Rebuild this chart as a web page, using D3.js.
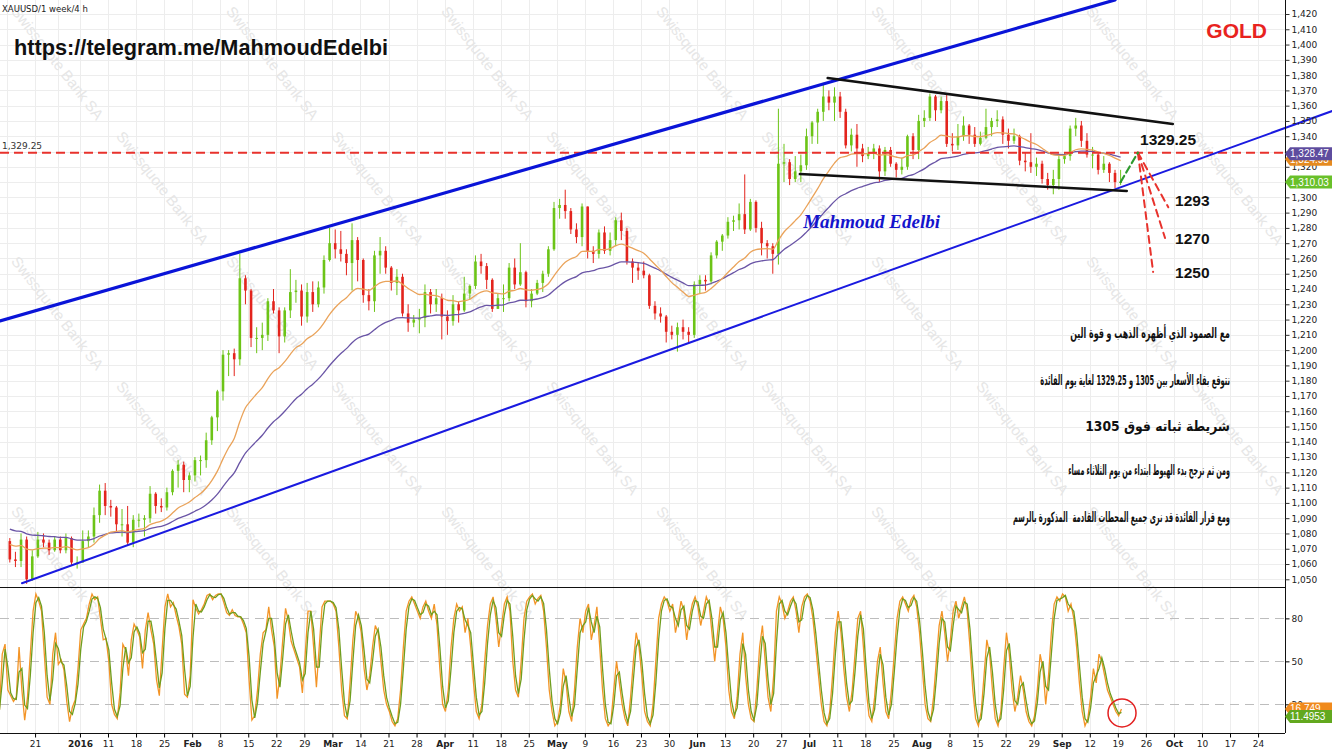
<!DOCTYPE html>
<html><head><meta charset="utf-8">
<script src="https://cdn.jsdelivr.net/npm/d3@7"></script>
<style>html,body{margin:0;padding:0;background:#fff;overflow:hidden}</style>
</head><body>
<svg id="c" width="1332" height="753"></svg>
<script>
// ---------------- DATA ----------------
const startDate = "2015-12-14";            // first daily candle
const holidays = ["2015-12-25", "2016-01-01"];
// daily OHLC (Dec 14 2015 .. Sep 19 2016)
const open = [1075,1063,1062,1076,1050,1065,1076,1074,1069,1076,1069,1077,1061,
1061,1075,1078,1092,1108,1098,1097,1086,1086,1074,1089,1089,1090,1106,1098,1097,1107,1121,1125,1115,
1118,1128,1128,1141,1156,1173,1197,1198,1194,1247,1239,1208,1208,1210,1232,1226,1209,1226,1238,1239,1222,
1238,1230,1241,1259,1270,1266,1263,1257,1272,1259,1236,1232,1262,1265,1254,1244,1248,1224,1218,1220,1221,1238,1230,
1234,1222,1219,1230,1226,1237,1242,1258,1255,1246,1227,1234,1234,1254,1243,1251,1232,1237,1244,1250,1266,
1293,1295,1291,1279,1274,1294,1265,1263,1277,1265,1272,1285,1278,1258,1254,1252,1249,1229,1224,1222,1212,1210,
1215,1212,1210,1243,1246,1245,1262,1271,1275,1284,1285,1289,1279,1297,1280,1270,1268,1263,1322,1323,1312,1317,
1321,1340,1349,1356,1366,1362,1366,1356,1334,1341,1332,1327,1329,1332,1317,1331,1322,1318,1320,1340,1331,
1350,1352,1366,1357,1363,1335,1334,1340,1347,1341,1335,1339,1346,1350,1351,1341,1337,1340,1324,1323,1320,1322,1312,
1308,1312,1325,1327,1345,1347,1337,1328,1328,1318,1322,1316,1310];
const high = [1077,1068,1080,1078,1069,1081,1080,1076,1078,1078,1080,1078,1065,
1082,1082,1097,1112,1113,1102,1098,1096,1098,1092,1093,1092,1111,1107,1103,1110,1122,1128,1127,1120,
1130,1131,1146,1157,1174,1200,1200,1201,1263,1249,1240,1215,1218,1234,1240,1228,1228,1253,1246,1243,1244,
1245,1245,1262,1280,1279,1278,1266,1283,1274,1260,1240,1265,1274,1268,1255,1253,1250,1230,1223,1227,1243,1240,1240,
1237,1226,1236,1232,1248,1243,1262,1263,1257,1247,1237,1243,1257,1260,1270,1252,1240,1246,1252,1268,1297,
1299,1305,1293,1283,1296,1294,1268,1279,1281,1277,1287,1290,1280,1260,1257,1258,1250,1232,1228,1223,1216,1218,
1220,1215,1245,1249,1249,1264,1272,1276,1287,1288,1296,1315,1299,1298,1284,1272,1270,1358,1335,1325,1327,1328,
1345,1350,1358,1375,1370,1372,1369,1358,1345,1348,1335,1333,1335,1334,1333,1333,1323,1326,1341,1342,1354,
1357,1368,1367,1366,1368,1342,1348,1353,1348,1346,1343,1358,1352,1357,1353,1345,1345,1341,1329,1342,1326,1324,1316,
1318,1327,1329,1347,1352,1350,1342,1333,1329,1327,1323,1318,1318];
const low = [1061,1058,1058,1047,1049,1064,1071,1066,1068,1067,1067,1059,1057,
1061,1071,1074,1087,1092,1091,1081,1078,1072,1071,1084,1078,1087,1093,1094,1095,1105,1110,1107,1107,
1114,1118,1123,1138,1147,1167,1183,1183,1190,1230,1202,1198,1200,1206,1224,1198,1205,1221,1231,1216,1218,
1225,1228,1237,1258,1260,1258,1249,1239,1245,1231,1226,1225,1250,1250,1239,1236,1222,1212,1215,1211,1215,1224,1225,
1207,1210,1216,1218,1225,1233,1240,1250,1240,1225,1227,1225,1232,1240,1242,1228,1228,1236,1238,1248,1265,
1286,1286,1276,1270,1268,1260,1257,1260,1263,1262,1268,1272,1256,1244,1246,1247,1227,1220,1218,1205,1207,1199,
1207,1204,1208,1237,1239,1243,1260,1265,1273,1278,1279,1276,1278,1277,1262,1260,1250,1256,1310,1308,1310,1310,
1318,1335,1335,1350,1357,1350,1352,1332,1330,1320,1323,1325,1325,1310,1314,1320,1313,1315,1318,1325,1325,
1346,1350,1350,1355,1333,1330,1331,1337,1335,1333,1334,1338,1340,1346,1335,1332,1335,1321,1317,1316,1314,1309,1305,
1302,1305,1322,1324,1340,1333,1326,1319,1315,1316,1310,1306,1308];
const close = [1063,1062,1076,1050,1065,1076,1074,1069,1076,1069,1077,1061,1061,
1075,1078,1092,1108,1098,1097,1086,1086,1074,1089,1089,1090,1106,1098,1097,1107,1121,1125,1115,1118,
1128,1128,1141,1156,1173,1197,1198,1194,1247,1239,1208,1208,1210,1232,1226,1209,1226,1238,1239,1222,1238,
1230,1241,1259,1270,1266,1263,1257,1272,1259,1236,1232,1262,1265,1254,1244,1248,1224,1218,1220,1221,1238,1230,1234,
1222,1219,1230,1226,1237,1242,1258,1255,1246,1227,1234,1234,1254,1243,1251,1232,1237,1244,1250,1266,1293,
1295,1291,1279,1274,1294,1265,1263,1277,1265,1272,1285,1278,1258,1254,1252,1249,1229,1224,1222,1212,1210,1215,
1212,1210,1243,1246,1245,1262,1271,1275,1284,1285,1289,1279,1297,1280,1270,1268,1263,1322,1323,1312,1317,1321,
1340,1349,1356,1366,1362,1366,1356,1334,1341,1332,1327,1329,1332,1317,1331,1322,1318,1320,1340,1331,1350,
1352,1366,1357,1363,1335,1334,1340,1347,1341,1335,1339,1346,1350,1351,1341,1337,1340,1324,1323,1320,1322,1312,1308,
1312,1325,1327,1345,1347,1337,1328,1328,1318,1322,1316,1310,1310.03];

// exponential moving averages (periods in days) and their values at the left edge
const fastPeriod = 18, fastStart = 1074;
const slowPeriod = 36, slowStart = 1084;

// stochastic %K, half-day samples
const oscStart = "2015-12-10T15:36";
const stochK = [16,55,62,30,26,22,25,60,30,9,
25,55,85,97,92,85,55,25,20,55,
70,48,51,44,22,8,18,23,45,72,
76,80,90,97,93,95,80,65,66,50,
20,13,10,28,62,58,40,65,76,72,
67,45,72,84,72,62,37,26,58,88,
97,88,91,82,74,62,27,25,40,93,
87,83,86,90,96,97,93,96,97,97,
91,84,82,86,82,81,81,76,70,37,
9,12,30,55,70,72,88,72,60,24,
40,65,87,78,64,58,52,46,28,55,
85,85,60,32,60,88,92,92,92,
90,85,60,30,12,10,35,65,85,80,
70,45,30,40,60,75,70,50,30,20,
15,8,5,10,30,60,85,92,95,90,
85,80,88,92,85,80,90,75,45,20,
15,30,60,80,90,85,88,70,80,60,
35,15,10,20,50,75,90,95,80,60,
75,90,95,85,50,30,25,50,80,92,
95,97,90,94,96,85,60,30,15,5,
8,20,45,35,15,8,30,60,80,70,
85,90,65,75,88,60,30,10,5,8,
30,50,35,20,10,5,25,50,70,60,
40,15,8,5,20,50,80,90,95,92,
85,90,70,80,92,85,65,80,90,95,
88,75,85,95,90,70,50,70,88,80,
60,30,15,10,25,55,70,40,20,10,
8,30,60,75,50,25,15,40,85,95,
90,80,85,92,95,85,70,88,95,97,
92,80,60,40,20,8,5,15,40,70,
85,70,45,25,15,30,55,80,85,60,
30,12,8,25,50,60,35,15,10,30,
55,80,92,95,90,85,93,96,88,70,
45,20,10,8,25,50,75,85,70,50,
65,85,92,80,88,95,85,60,30,10,
5,15,40,65,55,30,10,5,15,45,
70,55,30,15,25,40,30,15,8,5,
12,30,55,45,20,40,70,90,95,92,
97,95,85,90,80,60,35,15,5,10,
25,45,35,55,50,40,30,25,20,15,
12,16.7];
const dPeriod = 2;

// axis ticks
const priceTicks = [1050,1060,1070,1080,1090,1100,1110,1120,1130,1140,1150,1160,1170,1180,1190,1200,1210,1220,1230,1240,1250,1260,1270,1280,1290,1300,1310,1320,1330,1340,1350,1360,1370,1380,1390,1400,1410,1420];
const oscTicks = [20, 50, 80];
const tickDates = ["2015-12-21","2016-01-04","2016-01-11","2016-01-18","2016-01-25","2016-02-01","2016-02-08","2016-02-15","2016-02-22","2016-02-29","2016-03-07","2016-03-14","2016-03-21","2016-03-28","2016-04-04","2016-04-11","2016-04-18","2016-04-25","2016-05-02","2016-05-09","2016-05-16","2016-05-23","2016-05-30","2016-06-06","2016-06-13","2016-06-20","2016-06-27","2016-07-04","2016-07-11","2016-07-18","2016-07-25","2016-08-01","2016-08-08","2016-08-15","2016-08-22","2016-08-29","2016-09-05","2016-09-12","2016-09-19","2016-09-26","2016-10-03","2016-10-10","2016-10-17","2016-10-24"];
const tickLabels = ["21","2016","11","18","25","Feb","8","15","22","29","Mar","14","21","28","Apr","11","18","25","May","9","16","23","30","Jun","13","20","27","Jul","11","18","25","Aug","8","15","22","29","Sep","12","19","26","Oct","10","17","24"];

// current value tags
const tagSlowMA = 1328.47, tagFastMA = 1324.93, tagClose = 1310.03;
const tagK = 16.749, tagD = 11.4953;

// drawn annotations (date, price)
const resistanceLevel = 1329.25;
const channelUpper = [["2015-12-10T18:00", 1219.1], ["2016-09-16T12:00", 1429.2]];
const channelLower = [["2015-12-16T16:00", 1047.4], ["2016-11-10T05:00", 1356.5]];
const wedgeUpper = [["2016-07-07T07:00", 1378.1], ["2016-09-30T19:00", 1348.0]];
const wedgeLower = [["2016-06-30T08:00", 1315.3], ["2016-09-20T14:00", 1304.2]];
const forecastUp = [["2016-09-19T12:00", 1310.03], ["2016-09-22T14:00", 1329.25]];
const forecastApex = ["2016-09-22T14:00", 1329.25];
const forecastTargets = [["2016-09-30T00:00", 1293.5], ["2016-09-29T10:00", 1273.4], ["2016-09-27T07:00", 1251.2]];
const levelLabels = [["1329.25","2016-09-22T23:00",1337.5],["1293","2016-10-03T05:00",1297.6],["1270","2016-10-03T05:00",1272.7],["1250","2016-10-03T05:00",1250.5]];
const signature = ["Mahmoud Edelbi", "2016-06-30T22:00", 1284];
const circleMark = ["2016-09-19T18:00", 14];

const arabicLines = [
  "مع الصمود الذي أظهره الذهب و قوة الين",
  "نتوقع بقاء الأسعار بين 1305 و 1329.25 لغاية يوم الفائدة",
  "شريطة ثباته فوق 1305",
  "ومن ثم نرجح بدء الهبوط ابتداء من يوم الثلاثاء مساء",
  "ومع قرار الفائدة قد نرى جميع المحطات القادمة  المذكورة بالرسم"
];

// ---------------- LAYOUT ----------------
const W = 1332, H = 753, PR = 1285;
const mainBottom = 587, oscBottom = 733;
const svg = d3.select('#c');

const fmt = d3.utcFormat('%Y-%m-%d');
const allDays = d3.utcDay.range(new Date(Date.UTC(2015,11,1)), new Date(Date.UTC(2016,11,1)))
  .filter(d => { const w = d.getUTCDay(); return w > 0 && w < 6 && !holidays.includes(fmt(d)); });
const base = allDays.findIndex(d => fmt(d) === startDate);
const dayIndex = new Map(allDays.map((d, i) => [fmt(d), i - base]));
function tOf(s) {
  const [ds, ts] = s.split('T');
  let t = dayIndex.get(ds);
  if (ts) { const [h, m] = ts.split(':').map(Number); t += (h + m / 60) / 24; }
  return t;
}

const x = d3.scaleLinear().domain([-1.25, 227.8]).range([0, PR]);
const y = d3.scaleLinear().domain([1050, 1420]).range([579.3, 14]);
const yo = d3.scaleLinear().domain([0, 100]).range([oscBottom, 589.7]);

const defs = svg.append('defs');
defs.append('clipPath').attr('id', 'mainClip').append('rect').attr('x', 0).attr('y', 0).attr('width', PR).attr('height', mainBottom);
defs.append('clipPath').attr('id', 'oscClip').append('rect').attr('x', 0).attr('y', mainBottom).attr('width', PR).attr('height', oscBottom - mainBottom);

// gridlines
const mondays = allDays.filter(d => d.getUTCDay() === 1).map(d => dayIndex.get(fmt(d))).filter(t => x(t) >= 0 && x(t) <= PR);
const grid = svg.append('g').attr('stroke', '#ededed').attr('stroke-width', 1);
grid.selectAll('line.v').data(mondays).join('line')
  .attr('x1', d => Math.round(x(d)) + 0.5).attr('x2', d => Math.round(x(d)) + 0.5)
  .attr('y1', 0).attr('y2', oscBottom);
grid.selectAll('line.h').data(priceTicks).join('line')
  .attr('x1', 0).attr('x2', PR)
  .attr('y1', d => Math.round(y(d)) + 0.5).attr('y2', d => Math.round(y(d)) + 0.5);

// watermark (kept fully inside the picture)
const wm = svg.append('g').attr('fill', '#e6e6e6').attr('font-family', 'Liberation Sans, Arial, sans-serif').attr('font-size', 15);
for (let r = 0; r < 6; r++) {
  for (let c = 0; c < 7; c++) {
    const wx = 20 + c * 215 + (r % 2) * 105, wy = 4 + r * 125;
    if (wx > W - 110 || wy > H - 125) continue;
    wm.append('text').attr('transform', `translate(${wx},${wy}) rotate(52)`).attr('dy', '0.8em').text('Swissquote Bank SA');
  }
}

// ---------------- MAIN PANEL ----------------
const days = close.map((c, i) => ({ i, o: open[i], h: high[i], l: low[i], c }));
const main = svg.append('g').attr('clip-path', 'url(#mainClip)');
const up = '#6cc417', down = '#e3241d';
main.selectAll('line.wick').data(days).join('line')
  .attr('x1', d => x(d.i + 0.5)).attr('x2', d => x(d.i + 0.5))
  .attr('y1', d => y(d.h)).attr('y2', d => y(d.l))
  .attr('stroke', d => d.c >= d.o ? up : down).attr('stroke-width', 1);
main.selectAll('rect.body').data(days).join('rect')
  .attr('x', d => x(d.i + 0.5) - 1.3).attr('width', 2.6)
  .attr('y', d => y(Math.max(d.o, d.c)))
  .attr('height', d => Math.max(1, Math.abs(y(d.o) - y(d.c))))
  .attr('fill', d => d.c >= d.o ? up : down);

function ema(vals, n, seed) { const a = 2 / (n + 1); let e = seed; return vals.map(v => (e = e + a * (v - e))); }
const fastMA = ema(close, fastPeriod, fastStart);
const slowMA = ema(close, slowPeriod, slowStart);
const maLine = d3.line().x((d, i) => x(i + 0.5)).y(d => y(d)).curve(d3.curveMonotoneX);
main.append('path').attr('d', maLine(slowMA)).attr('fill', 'none').attr('stroke', '#6a55a6').attr('stroke-width', 1.3);
main.append('path').attr('d', maLine(fastMA)).attr('fill', 'none').attr('stroke', '#eaa35a').attr('stroke-width', 1.3);

// resistance line
svg.append('line').attr('x1', 0).attr('x2', PR).attr('y1', y(resistanceLevel)).attr('y2', y(resistanceLevel))
  .attr('stroke', '#e8322c').attr('stroke-width', 2).attr('stroke-dasharray', '9,5');
svg.append('text').attr('x', 2).attr('y', y(resistanceLevel) - 4).attr('font-family', 'DejaVu Sans, sans-serif')
  .attr('font-size', 9).attr('fill', '#333').text(d3.format(',.2f')(resistanceLevel));

const pt = p => [x(tOf(p[0])), y(p[1])];
function seg(p, stroke, w, dash) {
  const a = pt(p[0]), b = pt(p[1]);
  const l = svg.append('line').attr('x1', a[0]).attr('y1', a[1]).attr('x2', b[0]).attr('y2', b[1])
    .attr('stroke', stroke).attr('stroke-width', w).attr('stroke-linecap', 'round');
  if (dash) l.attr('stroke-dasharray', dash);
  return l;
}
seg(channelUpper, '#0a14d8', 3.2);
seg(channelLower, '#1a1ae0', 2);
seg(wedgeUpper, '#111', 2.6);
seg(wedgeLower, '#111', 2.6);
forecastTargets.forEach(t => seg([forecastApex, t], '#e8322c', 2, '7,5'));
seg(forecastUp, '#2e9a2e', 2.2, '7,4');

const lbl = svg.append('g').attr('font-family', 'Liberation Sans, Arial, sans-serif').attr('font-weight', 'bold')
  .attr('font-size', 15.5).attr('fill', '#111');
levelLabels.forEach(l => lbl.append('text').attr('x', x(tOf(l[1]))).attr('y', y(l[2])).attr('dy', '0.35em').text(l[0]));

const sig = svg.append('text').attr('x', x(tOf(signature[1]))).attr('y', y(signature[2])).attr('dy', '0.35em')
  .attr('font-family', 'Liberation Serif, serif').attr('font-style', 'italic').attr('font-weight', 'bold')
  .attr('font-size', 19).attr('fill', '#1414cc').text(signature[0]);

// Arabic text block: right-aligned, each line squeezed horizontally to the reference width
const arY = [333, 380, 426, 470, 517];
const arW = [160, 190, 145, 162, 217];
arabicLines.forEach((t, i) => {
  const g = svg.append('g').attr('transform', `translate(1230,${arY[i]})`);
  const el = g.append('text').attr('x', 0).attr('y', 0).attr('dy', '0.35em').attr('text-anchor', 'end')
    .attr('font-family', 'DejaVu Sans, sans-serif').attr('font-weight', 'bold').attr('font-size', 14)
    .attr('fill', '#111').style('white-space', 'pre').text(t);
  const L = el.node().getComputedTextLength();
  if (L > 0) el.attr('transform', `scale(${Math.min(1, arW[i] / L)},1)`);
});

// title texts
const title = svg.append('text').attr('x', 2).attr('y', 12).attr('font-family', 'DejaVu Sans, sans-serif')
  .attr('font-size', 10).attr('fill', '#222').text('XAUUSD/1 week/4 h');
(function () { const L = title.node().getComputedTextLength(); title.attr('font-size', 10 * 86 / L); })();
const url = svg.append('text').attr('x', 14).attr('y', 55).attr('font-family', 'Liberation Sans, Arial, sans-serif')
  .attr('font-weight', 'bold').attr('font-size', 21.7).attr('fill', '#111').text('https://telegram.me/MahmoudEdelbi');
(function () { const L = url.node().getComputedTextLength(); url.attr('font-size', 21.7 * 374 / L); })();
svg.append('text').attr('x', 1267).attr('y', 38).attr('text-anchor', 'end').attr('font-family', 'Liberation Sans, Arial, sans-serif')
  .attr('font-weight', 'bold').attr('font-size', 21).attr('fill', '#e8231e').text('GOLD');
(function () { const L = sig.node().getComputedTextLength(); sig.attr('font-size', 19 * 137 / L); })();

// ---------------- OSCILLATOR ----------------
const t0 = tOf(oscStart);
const kPts = stochK.map((v, j) => ({ t: t0 + 0.5 * j, v }));
const dPts = kPts.map((p, j) => ({ t: p.t, v: d3.mean(stochK.slice(Math.max(0, j - dPeriod + 1), j + 1)) }));
const osc = svg.append('g');
osc.selectAll('line.og').data(oscTicks).join('line')
  .attr('x1', 0).attr('x2', PR).attr('y1', d => Math.round(yo(d)) + 0.5).attr('y2', d => Math.round(yo(d)) + 0.5)
  .attr('stroke', '#bdbdbd').attr('stroke-width', 1.2).attr('stroke-dasharray', '9,6');
const oLine = d3.line().x(d => x(d.t)).y(d => yo(d.v));
const oscG = svg.append('g').attr('clip-path', 'url(#oscClip)');
oscG.append('path').attr('d', oLine(kPts)).attr('fill', 'none').attr('stroke', '#f39426').attr('stroke-width', 1.3);
oscG.append('path').attr('d', oLine(dPts)).attr('fill', 'none').attr('stroke', '#6f9e1e').attr('stroke-width', 1.3);
svg.append('circle').attr('cx', x(tOf(circleMark[0]))).attr('cy', yo(circleMark[1])).attr('r', 14)
  .attr('fill', 'none').attr('stroke', '#e32020').attr('stroke-width', 1.5);

// ---------------- AXES ----------------
svg.append('line').attr('x1', 0).attr('x2', PR).attr('y1', mainBottom + 0.5).attr('y2', mainBottom + 0.5).attr('stroke', '#111');
svg.append('line').attr('x1', PR + 0.5).attr('x2', PR + 0.5).attr('y1', 0).attr('y2', oscBottom).attr('stroke', '#111');

// price labels covered by value tags are not printed (as in the reference)
const tagVals = [tagSlowMA, tagClose];
const shownPrice = priceTicks.filter(p => tagVals.every(v => Math.abs(y(p) - y(v)) > 6));
const yAxis = svg.append('g').attr('transform', `translate(${PR + 0.5},0)`)
  .call(d3.axisRight(y).tickValues(priceTicks).tickFormat(d => shownPrice.includes(d) ? d3.format(',')(d) : '').tickSize(4).tickPadding(2));
yAxis.select('.domain').remove();
yAxis.selectAll('text').attr('font-family', 'DejaVu Sans, sans-serif').attr('font-size', 9).attr('fill', '#222');
yAxis.selectAll('line').attr('stroke', '#333');

const oAxis = svg.append('g').attr('transform', `translate(${PR + 0.5},0)`)
  .call(d3.axisRight(yo).tickValues(oscTicks).tickSize(4).tickPadding(2));
oAxis.select('.domain').remove();
oAxis.selectAll('text').attr('font-family', 'DejaVu Sans, sans-serif').attr('font-size', 9).attr('fill', '#222');

const tickIdx = tickDates.map(tOf);
const xAxis = svg.append('g').attr('transform', `translate(0,${oscBottom + 0.5})`)
  .call(d3.axisBottom(x).tickValues(tickIdx).tickFormat((d, i) => tickLabels[i]).tickSize(4).tickPadding(3));
xAxis.select('.domain').attr('d', `M0,0H${PR}`).attr('stroke', '#111');
xAxis.selectAll('text').attr('font-family', 'DejaVu Sans, sans-serif').attr('font-size', 9).attr('fill', '#222')
  .attr('font-weight', (d, i) => /[A-Za-z]/.test(tickLabels[i]) || tickLabels[i].length === 4 ? 'bold' : 'normal');

// value tags
function tag(scale, v, txt, fill) {
  const cy = scale(v);
  const g = svg.append('g');
  g.append('path').attr('d', `M${PR},${cy} L${PR + 5},${cy - 6.5} L${W},${cy - 6.5} L${W},${cy + 6.5} L${PR + 5},${cy + 6.5} Z`).attr('fill', fill);
  const t = g.append('text').attr('x', PR + 5).attr('y', cy).attr('dy', '0.35em').attr('font-family', 'Liberation Sans, Arial, sans-serif')
    .attr('font-size', 10).attr('fill', '#fff').text(txt);
  const L = t.node().getComputedTextLength();
  if (L > W - PR - 7) t.attr('font-size', 10 * (W - PR - 7) / L);
}
tag(y, tagFastMA, d3.format(',.2f')(tagFastMA), '#e58a1f');
tag(y, tagSlowMA, d3.format(',.2f')(tagSlowMA), '#5e4c9e');
tag(y, tagClose, d3.format(',.2f')(tagClose), '#69c02a');
tag(yo, tagK, String(tagK), '#f08a1c');
tag(yo, tagD, String(tagD), '#62a81e');
</script>
</body></html>
